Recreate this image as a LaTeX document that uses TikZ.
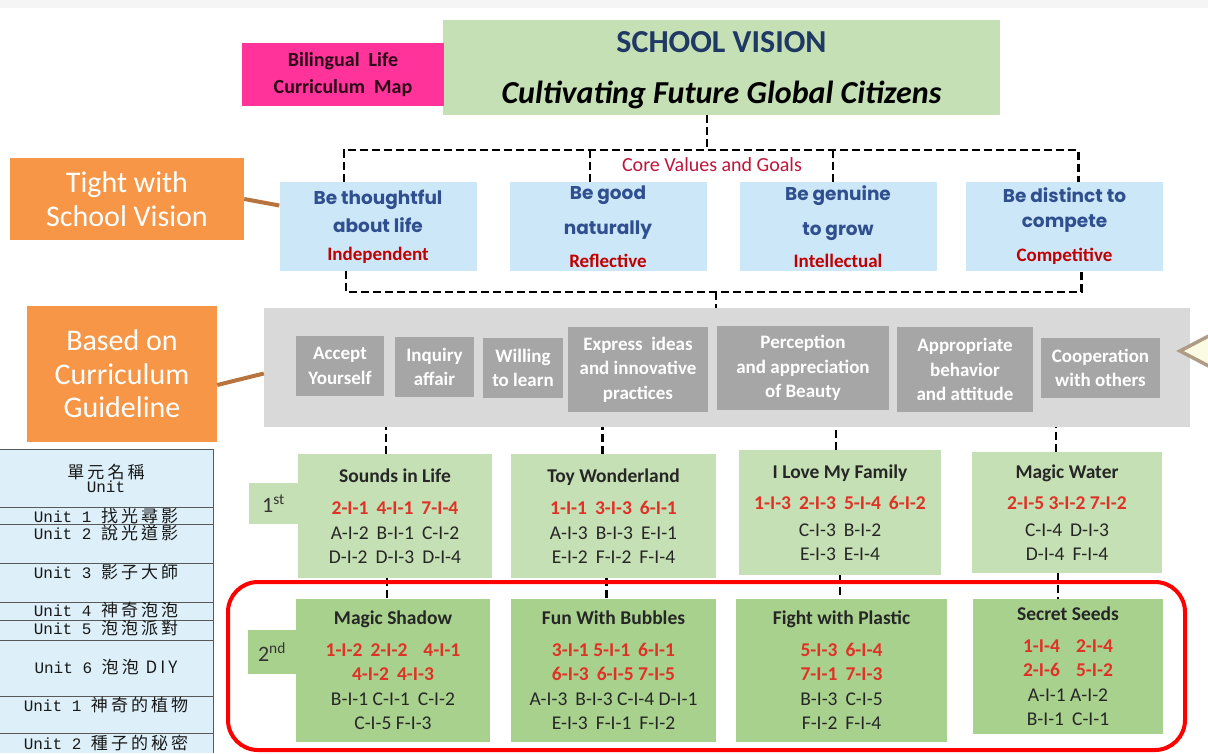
\documentclass[tikz,border=0pt]{standalone}
\usepackage{fontspec}
\setmainfont{Carlito}
\newfontfamily\gothicfont{Poppins}
\newfontfamily\cjkfont{Noto Sans CJK TC}[LetterSpace=18]
\newfontfamily\unitfont{Liberation Mono}
\usepackage{xcolor}
\usepackage{tikz}
\usetikzlibrary{positioning,calc}

\definecolor{vpink}{HTML}{FF3399}
\definecolor{vink}{HTML}{2A0A18}
\definecolor{vgreen}{HTML}{C5E0B4}
\definecolor{vnavy}{HTML}{1F3864}
\definecolor{vorange}{HTML}{F79646}
\definecolor{vbrown}{HTML}{B8743E}
\definecolor{vblue}{HTML}{CCE7F8}
\definecolor{vbluetext}{HTML}{2F4F8F}
\definecolor{vdeepred}{HTML}{C00000}
\definecolor{vcrimson}{HTML}{C0143C}
\definecolor{vpanel}{HTML}{D9D9D9}
\definecolor{vgray}{HTML}{A6A6A6}
\definecolor{vlight}{HTML}{C5E0B4}
\definecolor{vmid}{HTML}{A9D18E}
\definecolor{vcode}{HTML}{E03127}
\definecolor{vtable}{HTML}{DDF0FA}
\definecolor{vcallfill}{HTML}{FBFBE4}
\definecolor{vcalledge}{HTML}{AE9C86}

\newcommand{\rc}[1]{{\bfseries\color{vcode}#1}}
\newcommand{\gp}{\hspace{8pt}}
\newcommand{\goalsub}[1]{{\normalfont\bfseries\fontsize{19}{28}\selectfont\color{vdeepred}#1}}
\newcommand{\unitrow}[2]{{\unitfont\fontsize{16}{18}\selectfont #1 }{\cjkfont\fontsize{17}{18}\selectfont #2}}

\begin{document}
\begin{tikzpicture}[x=1pt,y=-1pt,
    box/.style={inner sep=0pt, align=center},
    pinkbox/.style={box, fill=vpink, text=vink, font=\bfseries\fontsize{20}{27}\selectfont},
    visionbox/.style={box, fill=vgreen},
    orangebox/.style={box, fill=vorange, text=white, font=\fontsize{30}{33.5}\selectfont},
    goalbox/.style={box, fill=vblue, text=vbluetext, font=\gothicfont\bfseries\fontsize{18.5}{28}\selectfont, minimum width=197pt, minimum height=89pt},
    skillpanel/.style={box, fill=vpanel},
    skillbox/.style={box, fill=vgray, text=white, font=\bfseries\fontsize{19}{24.5}\selectfont},
    unitbox/.style={box, fill=vlight, text=black!85, font=\fontsize{19.5}{24.5}\selectfont},
    unitboxb/.style={unitbox, fill=vmid},
    gradetab/.style={box, fill=vlight, text=black!80, font=\fontsize{22}{24}\selectfont},
    dashline/.style={line width=2.5pt, dash pattern=on 8pt off 4pt, black},
    brownline/.style={line width=4pt, vbrown},
    redframe/.style={draw=red, line width=4pt, rounded corners=30pt},
    callout/.style={fill=vcallfill, draw=vcalledge, line width=3.5pt},
    tableline/.style={draw=black!65, line width=1pt},
    tabletext/.style={inner sep=0pt, text=black!90}]

  \useasboundingbox (0,0) rectangle (1208,753);
  \fill[white] (0,0) rectangle (1208,753);
  \fill[black!4] (0,0) rectangle (1208,8);

  % vision
  \node[visionbox, minimum width=557pt, minimum height=95pt] (vision) at (721.5,67.5) {};
  \node[anchor=base, inner sep=0pt, text=vnavy, font=\bfseries\fontsize{32}{36}\selectfont] (visiontitle) at (721.5,52) {SCHOOL VISION};
  \node[anchor=base, inner sep=0pt, font=\bfseries\itshape\fontsize{32}{36}\selectfont] (visionmotto) at (721.5,103) {Cultivating Future Global Citizens};
  \node[pinkbox, minimum width=202pt, minimum height=63pt] (bilingual) at (343,74.5) {Bilingual~~Life\\Curriculum~~Map};

  % side labels
  \node[orangebox, minimum width=234pt, minimum height=82pt] (tight) at (127,199) {Tight with\\School Vision};
  \node[orangebox, minimum width=190pt, minimum height=136pt] (guide) at (122,374) {Based on\\Curriculum\\Guideline};

  % core values
  \node[goalbox] (goal1) at (378,226.5) {Be thoughtful\\about life\\\goalsub{Independent}};
  \node[goalbox] (goal2) at (608,226.5) {Be good\\[7pt]naturally\\[5pt]\goalsub{Reflective}};
  \node[goalbox] (goal3) at (838,226.5) {Be genuine\\[7pt]to grow\\[4pt]\goalsub{Intellectual}};
  \node[goalbox] (goal4) at (1064.5,226.5) {Be distinct to\\[-3pt]compete\\[6pt]\goalsub{Competitive}};
  \node[inner sep=0pt, text=vcrimson, font=\fontsize{20}{24}\selectfont] (core) at (712,165) {Core Values and Goals};

  \coordinate (bus) at (707,150);
  \coordinate (lowbus) at (716,292);
  \draw[dashline] (vision.south -| bus) -- (bus);
  \draw[dashline] ([xshift=-34pt]goal1.north) |- (bus) -| ([xshift=14pt]goal4.north);
  \draw[dashline] ([xshift=-18pt]goal2.north) -- ([xshift=-18pt]goal2.north |- bus);
  \draw[dashline] ([xshift=-5pt]goal3.north) -- ([xshift=-5pt]goal3.north |- bus);
  \draw[dashline] ([xshift=-32pt]goal1.south) |- (lowbus) -| ([xshift=17pt]goal4.south);

  % curriculum guideline
  \node[skillpanel, minimum width=926pt, minimum height=119pt] (skills) at (727,367.5) {};
  \draw[dashline] (lowbus) -- (lowbus |- skills.north);
  \node[skillbox, minimum width=88pt, minimum height=60pt] (accept) at (340,366) {Accept\\Yourself};
  \node[skillbox, minimum width=79pt, minimum height=60pt] (inquiry) at (434.5,367) {Inquiry\\affair};
  \node[skillbox, minimum width=80pt, minimum height=60pt] (willing) at (523,368) {Willing\\to learn};
  \node[skillbox, minimum width=140pt, minimum height=85pt] (express) at (638,369.5) {Express~~ideas\\and innovative\\practices};
  \node[skillbox, minimum width=172pt, minimum height=84pt] (beauty) at (803,368) {Perception\\and appreciation\\of Beauty};
  \node[skillbox, minimum width=136pt, minimum height=85pt] (behave) at (965,369.5) {Appropriate\\behavior\\and attitude};
  \node[skillbox, minimum width=119pt, minimum height=60pt] (coop) at (1100.5,368) {Cooperation\\with others};

  \draw[brownline] (tight.east) -- ([yshift=21pt]goal1.west);
  \draw[brownline] ([yshift=-11pt]guide.east) -- ([yshift=-6pt]skills.west);

  \begin{scope}
    \clip (0,0) rectangle (1208,753);
    \filldraw[callout] (1222,329) -- (1180,351) -- (1222,373);
  \end{scope}

  % 1st semester
  \node[gradetab, minimum width=49pt, minimum height=41pt] (first) at (273.5,503.5) {1\textsuperscript{st}};
  \node[unitbox, minimum width=194pt, minimum height=124pt] (sounds) at (395,516)
    {{\bfseries Sounds in Life}\\[8pt]\rc{2-I-1\gp 4-I-1\gp 7-I-4}\\A-I-2\gp B-I-1\gp C-I-2\\D-I-2\gp D-I-3\gp D-I-4};
  \node[unitbox, minimum width=205pt, minimum height=124pt] (toy) at (613.5,516)
    {{\bfseries Toy Wonderland}\\[8pt]\rc{1-I-1\gp 3-I-3\gp 6-I-1}\\A-I-3\gp B-I-3\gp E-I-1\\E-I-2\gp F-I-2\gp F-I-4};
  \node[unitbox, minimum width=202pt, minimum height=125pt] (family) at (840,512.5)
    {{\bfseries I Love My Family}\\[7pt]\rc{1-I-3\gp 2-I-3\gp 5-I-4\gp 6-I-2}\\[2pt]C-I-3\gp B-I-2\\E-I-3\gp E-I-4};
  \node[unitbox, minimum width=190pt, minimum height=121pt] (water) at (1067,512.5)
    {{\bfseries Magic Water}\\[7pt]\rc{2-I-5 3-I-2 7-I-2}\\[2pt]C-I-4\gp D-I-3\\D-I-4\gp F-I-4};

  % 2nd semester
  \node[gradetab, fill=vmid, minimum width=48pt, minimum height=44pt] (second) at (272,652) {2\textsuperscript{nd}};
  \node[unitboxb, minimum width=194pt, minimum height=143pt] (shadow) at (393,670.5)
    {{\bfseries Magic Shadow}\\[7pt]\rc{1-I-2\gp 2-I-2\gp\gp 4-I-1}\\\rc{4-I-2\gp 4-I-3}\\B-I-1 C-I-1\gp C-I-2\\C-I-5 F-I-3};
  \node[unitboxb, minimum width=205pt, minimum height=143pt] (bubbles) at (613.5,670.5)
    {{\bfseries Fun With Bubbles}\\[7pt]\rc{3-I-1 5-I-1\gp 6-I-1}\\\rc{6-I-3\gp 6-I-5 7-I-5}\\A-I-3\gp B-I-3 C-I-4 D-I-1\\E-I-3\gp F-I-1\gp F-I-2};
  \node[unitboxb, minimum width=211pt, minimum height=143pt] (plastic) at (841.5,670.5)
    {{\bfseries Fight with Plastic}\\[7pt]\rc{5-I-3\gp 6-I-4}\\\rc{7-I-1\gp 7-I-3}\\B-I-3\gp C-I-5\\F-I-2\gp F-I-4};
  \node[unitboxb, minimum width=190pt, minimum height=135pt] (seeds) at (1068,666.5)
    {{\bfseries Secret Seeds}\\[7pt]\rc{1-I-4\gp\gp 2-I-4}\\\rc{2-I-6\gp\gp 5-I-2}\\A-I-1 A-I-2\\B-I-1\gp C-I-1};

  \foreach \up/\dx in {sounds/-9,toy/-11,family/-4,water/-11}
    \draw[dashline] ([xshift=\dx pt]\up.north) -- ([xshift=\dx pt]\up.north |- skills.south);
  \foreach \up/\dn/\dx in {sounds/shadow/-8,toy/bubbles/-7,family/plastic/0,water/seeds/-9}
    \draw[dashline] ([xshift=\dx pt]\up.south) -- ([xshift=\dx pt]\up.south |- \dn.north);

  \draw[redframe] (228,582) rectangle (1185,750);

  % unit table
  \fill[vtable] (0,449) rectangle (213,753);
  \foreach \y in {449,507,524,563,602,620,640,696,733}
    \draw[tableline] (0,\y) -- (213,\y);
  \draw[tableline] (213,449) -- (213,753);
  \node[tabletext, align=center] (unithead) at (106,478)
    {{\cjkfont\fontsize{17}{21}\selectfont 單元名稱}\\{\unitfont\fontsize{16}{21}\selectfont Unit}};
  \foreach \y/\u/\name [count=\k] in {516/Unit 1/找光尋影, 533/Unit 2/說光道影, 572/Unit 3/影子大師,
      610/Unit 4/神奇泡泡, 628/Unit 5/泡泡派對, 667/Unit 6/泡泡 DIY, 705/Unit 1/神奇的植物, 743/Unit 2/種子的秘密}
    \node[tabletext] (unit\k) at (106,\y) {\unitrow{\u}{\name}};
\end{tikzpicture}
\end{document}
